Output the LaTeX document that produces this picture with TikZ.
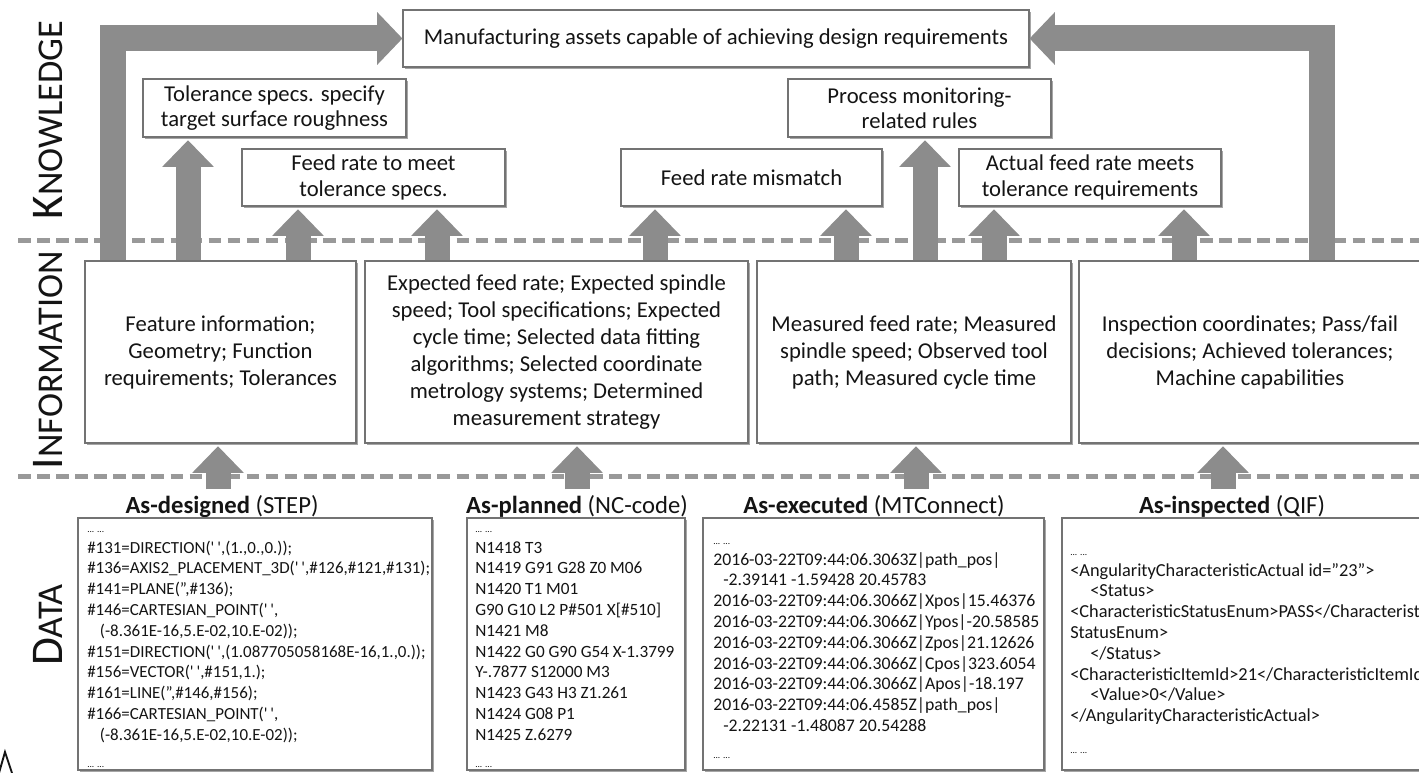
\documentclass[tikz,border=0pt]{standalone}
\usepackage{fontspec}
\setmainfont{Carlito}
\usetikzlibrary{arrows.meta,fit,shadows}

\definecolor{arrowgrey}{gray}{0.55}
\definecolor{dashgrey}{gray}{0.6}
\definecolor{boxline}{gray}{0.45}
\definecolor{ink}{gray}{0.08}

\newcommand{\infofont}{\fontsize{17}{20.25}\selectfont}
\newcommand{\knowfont}{\fontsize{17}{18.9}\selectfont}
\newcommand{\hdrfont}{\fontsize{18.5}{20}\selectfont}
\newcommand{\datafont}{\fontsize{13.75}{15.6}\selectfont}
\newcommand{\elide}{{\fontsize{7}{8}\selectfont ... ...}}
\newcommand{\sq}{\textquotesingle}
\newcommand{\seclabel}[2]{{\fontsize{34}{34}\selectfont #1}{\fontsize{27.2}{28}\selectfont #2}}

\begin{document}
\begin{tikzpicture}[x=0.75pt,y=-0.75pt,
  boxshadow/.style={drop shadow={shadow xshift=1.2pt, shadow yshift=-1.2pt, opacity=0.35, fill=black}},
  box/.style={draw=boxline, line width=0.8pt, fill=white, inner sep=0pt, boxshadow},
  ktext/.style={inner sep=0pt, align=center, text=ink, font=\knowfont},
  itext/.style={inner sep=0pt, align=center, text=ink, font=\infofont},
  dtext/.style={inner sep=0pt, align=left, text=ink, font=\datafont, anchor=north west},
  hdr/.style={inner sep=4pt, text=ink, font=\hdrfont, anchor=base},
  sec/.style={rotate=90, anchor=base, inner sep=0pt, text=ink},
  sepline/.style={draw=dashgrey, line width=3.75pt, dash pattern=on 9.4pt off 4.9pt},
  uparrow/.style={draw=arrowgrey, line width=18.75pt,
    -{Triangle[width=37.5pt,length=20pt]}, shorten >=2pt},
  bigarrow/.style={draw=arrowgrey, line width=19.5pt, line join=miter,
    -{Triangle[width=38.5pt,length=19pt]}},
]
\useasboundingbox (0,0) rectangle (1419,773);
\clip (0,0) rectangle (1419,773);
\fill[white] (0,0) rectangle (1419,773);

% layer separators
\draw[sepline] (18,241) -- (1419,241);
\draw[sepline] (18,476) -- (1419,476);

% layer names
\node[sec] (lk) at (62,120) {\seclabel{K}{NOWLEDGE}};
\node[sec] (li) at (62,360) {\seclabel{I}{NFORMATION}};
\node[sec] (ld) at (62,625) {\seclabel{D}{ATA}};

% knowledge
\node[box, fit={(403,10) (1029,67)}] (top) {};
\node[box, fit={(143,79) (406,137)}] (k1) {};
\node[box, fit={(242,149) (505,206)}] (k2) {};
\node[box, fit={(621,149) (882,206)}] (k3) {};
\node[box, fit={(788,79) (1051,137)}] (k4) {};
\node[box, fit={(959,149) (1221,206)}] (k5) {};
\node[ktext] (topt) at (top.center) {Manufacturing assets capable of achieving design requirements};
\node[ktext] (k1t) at (k1.center) {Tolerance specs. specify\\target surface roughness};
\node[ktext] (k2t) at (k2.center) {Feed rate to meet\\tolerance specs.};
\node[ktext] (k3t) at (k3.center) {Feed rate mismatch};
\node[ktext] (k4t) at (k4.center) {Process monitoring-\\related rules};
\node[ktext] (k5t) at (k5.center) {Actual feed rate meets\\tolerance requirements};

% information
\node[box, fit={(85,261) (356,443)}] (i1) {};
\node[box, fit={(365,261) (748,443)}] (i2) {};
\node[box, fit={(757,261) (1071,443)}] (i3) {};
\node[box, fit={(1079,261) (1421,443)}] (i4) {};
\node[itext] (i1t) at (i1.center) {Feature information;\\Geometry; Function\\requirements; Tolerances};
\node[itext] (i2t) at (i2.center) {Expected feed rate; Expected spindle\\speed; Tool specifications; Expected\\cycle time; Selected data fitting\\algorithms; Selected coordinate\\metrology systems; Determined\\measurement strategy};
\node[itext] (i3t) at (i3.center) {Measured feed rate; Measured\\spindle speed; Observed tool\\path; Measured cycle time};
\node[itext] (i4t) at (i4.center) {Inspection coordinates; Pass/fail\\decisions; Achieved tolerances;\\Machine capabilities};

% data
\node[hdr] (h1) at (222,513) {\textbf{As-designed} (STEP)};
\node[hdr] (h2) at (577,513) {\textbf{As-planned} (NC-code)};
\node[hdr] (h3) at (874,513) {\textbf{As-executed} (MTConnect)};
\node[hdr] (h4) at (1232,513) {\textbf{As-inspected} (QIF)};

\node[box, fit={(78,518) (432,770)}] (d1) {};
\node[box, fit={(467,518) (685,770)}] (d2) {};
\node[box, fit={(703,518) (1044,770)}] (d3) {};
\node[box, fit={(1062,518) (1430,770)}] (d4) {};

\node[dtext, font=\fontsize{12.7}{15.6}\selectfont] (t1) at (87,531) {\elide\\
\#131=DIRECTION(\sq\,\sq,(1.,0.,0.));\\
\#136=AXIS2\_PLACEMENT\_3D(\sq\,\sq,\#126,\#121,\#131);\\
\#141=PLANE(",\#136);\\
\#146=CARTESIAN\_POINT(\sq\,\sq,\\
\hspace*{9.5pt}(-8.361E-16,5.E-02,10.E-02));\\
\#151=DIRECTION(\sq\,\sq,(1.087705058168E-16,1.,0.));\\
\#156=VECTOR(\sq\,\sq,\#151,1.);\\
\#161=LINE(",\#146,\#156);\\
\#166=CARTESIAN\_POINT(\sq\,\sq,\\
\hspace*{9.5pt}(-8.361E-16,5.E-02,10.E-02));\\[5pt]
\elide};

\node[dtext, font=\fontsize{12.9}{15.6}\selectfont] (t2) at (475,531) {\elide\\
N1418 T3\\
N1419 G91 G28 Z0 M06\\
N1420 T1 M01\\
G90 G10 L2 P\#501 X[\#510]\\
N1421 M8\\
N1422 G0 G90 G54 X-1.3799\\
Y-.7877 S12000 M3\\
N1423 G43 H3 Z1.261\\
N1424 G08 P1\\
N1425 Z.6279\\[5pt]
\elide};

\node[dtext, font=\fontsize{13.3}{15.6}\selectfont] (t3) at (713,543) {\elide\\
2016-03-22T09:44:06.3063Z|path\_pos|\\
\hspace*{7.5pt}-2.39141 -1.59428 20.45783\\
2016-03-22T09:44:06.3066Z|Xpos|15.46376\\
2016-03-22T09:44:06.3066Z|Ypos|-20.58585\\
2016-03-22T09:44:06.3066Z|Zpos|21.12626\\
2016-03-22T09:44:06.3066Z|Cpos|323.6054\\
2016-03-22T09:44:06.3066Z|Apos|-18.197\\
2016-03-22T09:44:06.4585Z|path\_pos|\\
\hspace*{7.5pt}-2.22131 -1.48087 20.54288\\[5pt]
\elide};

\node[dtext] (t4) at (1070,554) {\elide\\
<AngularityCharacteristicActual id="23">\\
\hspace*{15pt}<Status>\\
<CharacteristicStatusEnum>PASS</Characteristic\\
StatusEnum>\\
\hspace*{15pt}</Status>\\
<CharacteristicItemId>21</CharacteristicItemId>\\
\hspace*{15pt}<Value>0</Value>\\
</AngularityCharacteristicActual>\\[8pt]
\elide};

% data -> information
\draw[uparrow] (h1.north -| 218,0) -- (i1.south -| 218,0);
\draw[uparrow] (h2.north -| 577,0) -- (i2.south -| 577,0);
\draw[uparrow] (h3.north -| 916,0) -- (i3.south -| 916,0);
\draw[uparrow] (h4.north -| 1223,0) -- (i4.south -| 1223,0);

% information -> knowledge
\draw[uparrow] (i1.north -| 188,0) -- (k1.south -| 188,0);
\draw[uparrow] (i1.north -| 298,0) -- (k2.south -| 298,0);
\draw[uparrow] (i2.north -| 437,0) -- (k2.south -| 437,0);
\draw[uparrow] (i2.north -| 655,0) -- (k3.south -| 655,0);
\draw[uparrow] (i3.north -| 846,0) -- (k3.south -| 846,0);
\draw[uparrow] (i3.north -| 925,0) -- (k4.south -| 925,0);
\draw[uparrow] (i3.north -| 994,0) -- (k5.south -| 994,0);
\draw[uparrow] (i4.north -| 1184,0) -- (k5.south -| 1184,0);

% information -> overall knowledge
\draw[bigarrow] (i1.north -| 112.5,0) |- (top.west);
\draw[bigarrow] (i4.north -| 1322,0) |- (top.east);

% fragment at the lower left corner
\draw[ink, line width=1.4pt] (-1,773) -- (5,752) -- (12,773);
\end{tikzpicture}
\end{document}
